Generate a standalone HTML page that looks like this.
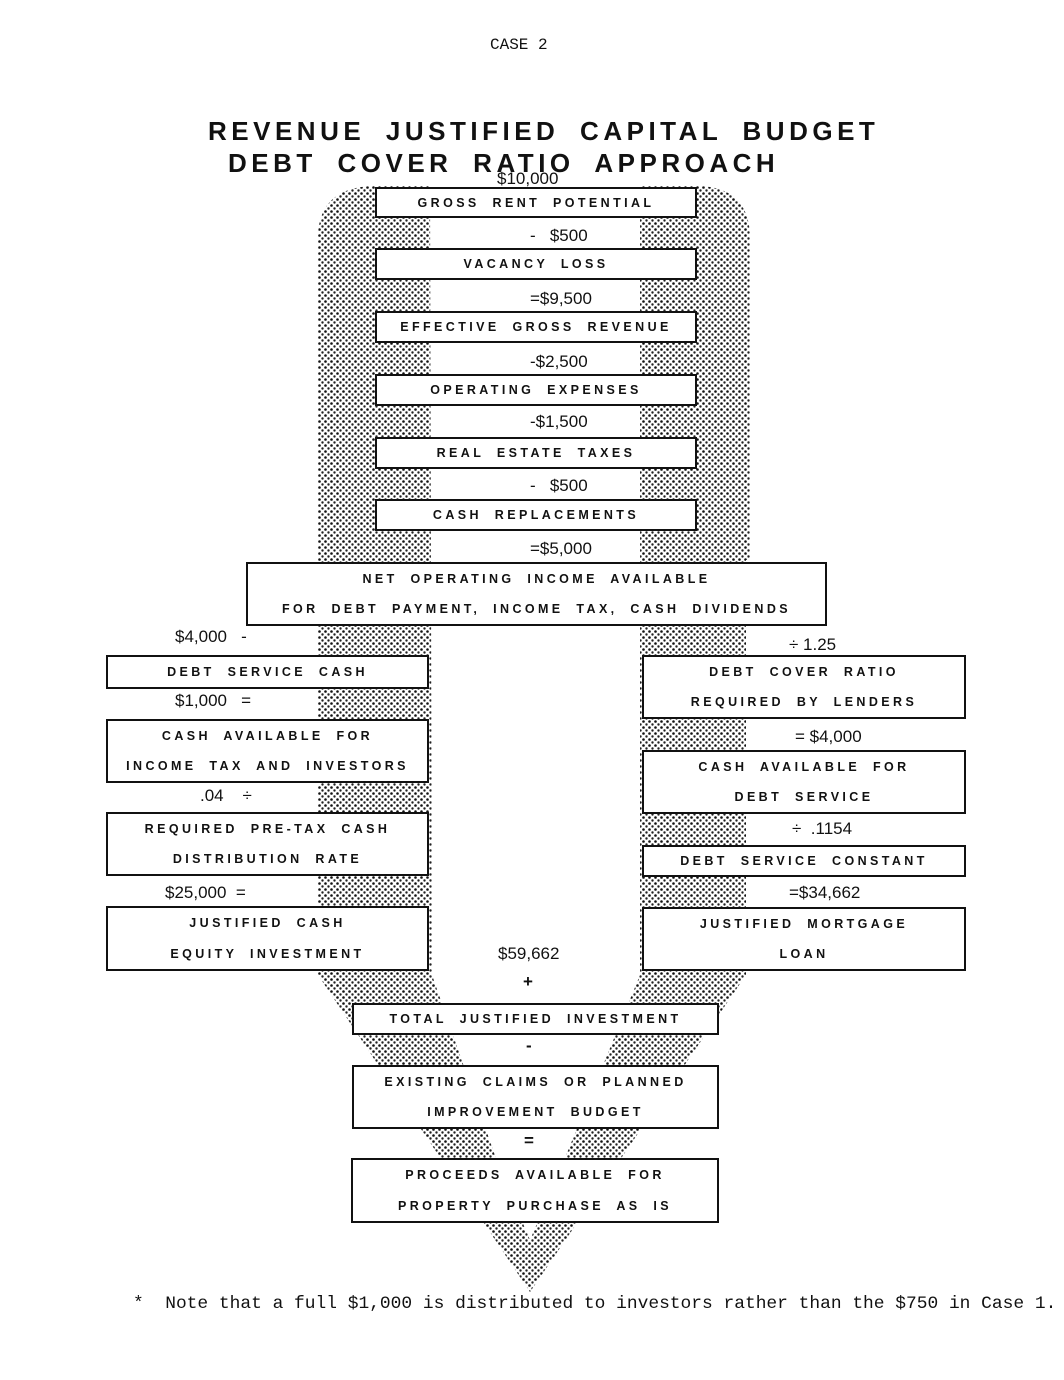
<!DOCTYPE html>
<html><head><meta charset="utf-8">
<style>
html,body{margin:0;padding:0;background:#fff;}
body{width:1064px;height:1380px;position:relative;overflow:hidden;font-family:"Liberation Sans",sans-serif;color:#111;}
.a{position:absolute;}
.box{position:absolute;border:2px solid #111;background:#fff;box-sizing:border-box;display:flex;flex-direction:column;justify-content:space-around;align-items:center;font-weight:bold;font-size:12.5px;letter-spacing:3.4px;word-spacing:6px;white-space:nowrap;}
.v{position:absolute;font-size:17px;white-space:nowrap;line-height:20px;}
.t{position:absolute;font-weight:bold;font-size:26px;letter-spacing:4.5px;word-spacing:9px;white-space:nowrap;line-height:28px;}
</style></head><body>
<svg class="a" style="left:0;top:0" width="1064" height="1380">
<defs>
<pattern id="d" width="6" height="6" patternUnits="userSpaceOnUse">
<rect width="6" height="6" fill="#fff"/>
<circle cx="1.5" cy="1.5" r="1.3" fill="#111"/>
<circle cx="4.5" cy="4.5" r="1.2" fill="#222"/>
</pattern>
</defs>
<path d="M318,560 L318,235 Q320,188 372,186 L700,186 Q748,188 750,235 L750,560 L746,560 L746,975 L530,1292 L318,975 Z" fill="url(#d)"/>
<path d="M430,186 L640,186 L640,975 L560,1170 L530,1240 L500,1170 L432,975 Z" fill="#fff"/>
</svg>
<div class="v" style="left:490px;top:35px;font-family:'Liberation Mono',monospace;font-size:16px;">CASE 2</div>
<div class="t" style="left:208px;top:117px;">REVENUE JUSTIFIED CAPITAL BUDGET</div>
<div class="t" style="left:228px;top:149px;">DEBT COVER RATIO APPROACH</div>
<div class="v" style="left:497px;top:169px;">$10,000</div>

<div class="box" style="left:375px;top:187px;width:322px;height:31px;">GROSS RENT POTENTIAL</div>
<div class="v" style="left:530px;top:226px;">-&nbsp;&nbsp;&nbsp;$500</div>
<div class="box" style="left:375px;top:248px;width:322px;height:32px;">VACANCY LOSS</div>
<div class="v" style="left:530px;top:289px;">=$9,500</div>
<div class="box" style="left:375px;top:311px;width:322px;height:32px;">EFFECTIVE GROSS REVENUE</div>
<div class="v" style="left:530px;top:352px;">-$2,500</div>
<div class="box" style="left:375px;top:374px;width:322px;height:32px;">OPERATING EXPENSES</div>
<div class="v" style="left:530px;top:412px;">-$1,500</div>
<div class="box" style="left:375px;top:437px;width:322px;height:32px;">REAL ESTATE TAXES</div>
<div class="v" style="left:530px;top:476px;">-&nbsp;&nbsp;&nbsp;$500</div>
<div class="box" style="left:375px;top:499px;width:322px;height:32px;">CASH REPLACEMENTS</div>
<div class="v" style="left:530px;top:539px;">=$5,000</div>
<div class="box" style="left:246px;top:562px;width:581px;height:64px;"><span>NET OPERATING INCOME AVAILABLE</span><span>FOR DEBT PAYMENT, INCOME TAX, CASH DIVIDENDS</span></div>

<div class="v" style="left:175px;top:627px;">$4,000&nbsp;&nbsp;&nbsp;-</div>
<div class="box" style="left:106px;top:655px;width:323px;height:34px;">DEBT SERVICE CASH</div>
<div class="v" style="left:175px;top:691px;">$1,000&nbsp;&nbsp;&nbsp;=</div>
<div class="box" style="left:106px;top:719px;width:323px;height:64px;"><span>CASH AVAILABLE FOR</span><span>INCOME TAX AND INVESTORS</span></div>
<div class="v" style="left:200px;top:786px;">.04&nbsp;&nbsp;&nbsp;&nbsp;÷</div>
<div class="box" style="left:106px;top:812px;width:323px;height:64px;"><span>REQUIRED PRE-TAX CASH</span><span>DISTRIBUTION RATE</span></div>
<div class="v" style="left:165px;top:883px;">$25,000&nbsp;&nbsp;=</div>
<div class="box" style="left:106px;top:906px;width:323px;height:65px;"><span>JUSTIFIED CASH</span><span>EQUITY INVESTMENT</span></div>

<div class="v" style="left:789px;top:635px;">÷ 1.25</div>
<div class="box" style="left:642px;top:655px;width:324px;height:64px;"><span>DEBT COVER RATIO</span><span>REQUIRED BY LENDERS</span></div>
<div class="v" style="left:795px;top:727px;">= $4,000</div>
<div class="box" style="left:642px;top:750px;width:324px;height:64px;"><span>CASH AVAILABLE FOR</span><span>DEBT SERVICE</span></div>
<div class="v" style="left:792px;top:819px;">÷&nbsp;&nbsp;.1154</div>
<div class="box" style="left:642px;top:845px;width:324px;height:32px;">DEBT SERVICE CONSTANT</div>
<div class="v" style="left:789px;top:883px;">=$34,662</div>
<div class="box" style="left:642px;top:907px;width:324px;height:64px;"><span>JUSTIFIED MORTGAGE</span><span>LOAN</span></div>

<div class="v" style="left:498px;top:944px;">$59,662</div>
<div class="v" style="left:523px;top:972px;font-weight:bold;">+</div>
<div class="box" style="left:352px;top:1003px;width:367px;height:32px;">TOTAL JUSTIFIED INVESTMENT</div>
<div class="v" style="left:526px;top:1036px;font-weight:bold;">-</div>
<div class="box" style="left:352px;top:1065px;width:367px;height:64px;"><span>EXISTING CLAIMS OR PLANNED</span><span>IMPROVEMENT BUDGET</span></div>
<div class="v" style="left:524px;top:1131px;font-weight:bold;">=</div>
<div class="box" style="left:351px;top:1158px;width:368px;height:65px;"><span>PROCEEDS AVAILABLE FOR</span><span>PROPERTY PURCHASE AS IS</span></div>

<div class="v" style="left:133px;top:1294px;font-family:'Liberation Mono',monospace;font-size:17.9px;">*&nbsp;&nbsp;Note that a full $1,000 is distributed to investors rather than the $750 in Case 1.</div>
</body></html>
